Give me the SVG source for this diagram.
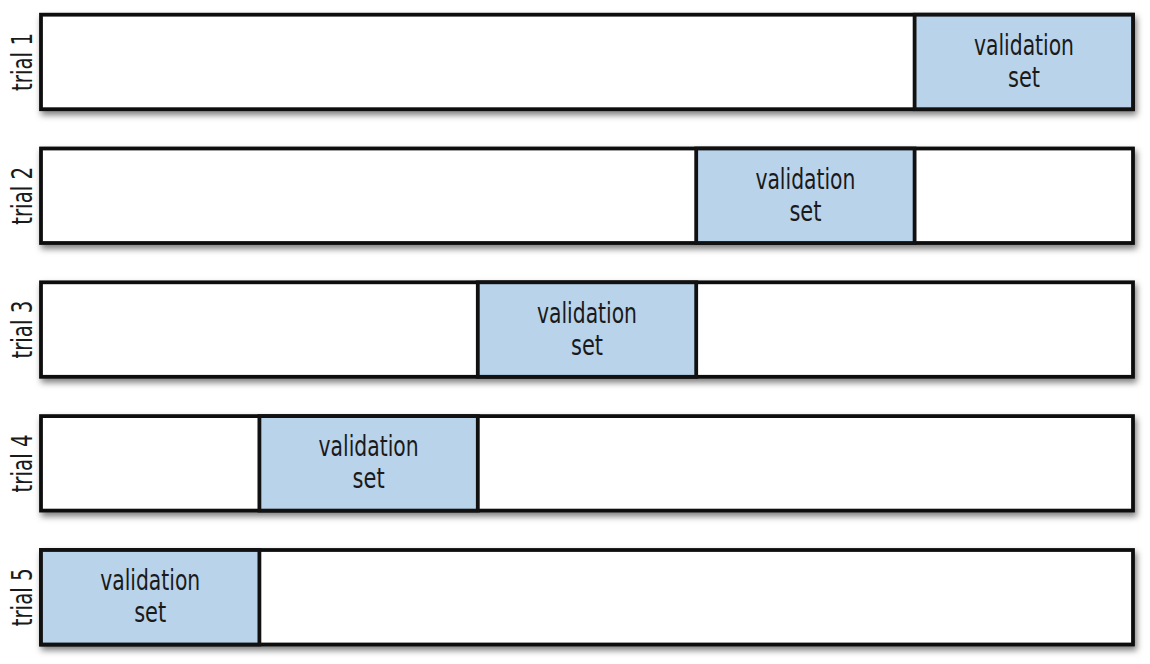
<svg xmlns="http://www.w3.org/2000/svg" width="1150" height="664" viewBox="0 0 1150 664">
  <defs>
    <filter id="shadow" x="-5%" y="-20%" width="110%" height="150%">
      <feDropShadow dx="2" dy="4" stdDeviation="3" flood-color="#000" flood-opacity="0.5"/>
    </filter>
    <style>
      .bar { fill: #ffffff; stroke: #111; stroke-width: 3.8; }
      .val { fill: #b9d3ea; stroke: #111; stroke-width: 3.8; }
      .lbl { font-family: "Liberation Sans Narrow", "DejaVu Sans Condensed", "Liberation Sans", sans-serif; font-size: 28px; fill: #1a1a1a; text-anchor: middle; }
    </style>
  </defs>
  <rect width="1150" height="664" fill="#ffffff"/>

  <!-- trial 1 -->
  <g id="trial1">
    <rect class="bar" x="41" y="14.7" width="1092" height="94.5" filter="url(#shadow)"/>
    <rect class="val" x="914.6" y="14.7" width="218.4" height="94.5"/>
    <text class="lbl" x="1024" y="55" textLength="100" lengthAdjust="spacingAndGlyphs">validation</text>
    <text class="lbl" x="1024" y="87" textLength="32" lengthAdjust="spacingAndGlyphs">set</text>
    <text class="lbl" transform="translate(32 62) rotate(-90)" textLength="58" lengthAdjust="spacingAndGlyphs">trial 1</text>
  </g>

  <!-- trial 2 -->
  <g id="trial2">
    <rect class="bar" x="41" y="148.5" width="1092" height="94.5" filter="url(#shadow)"/>
    <rect class="val" x="696.2" y="148.5" width="218.4" height="94.5"/>
    <text class="lbl" x="805.4" y="188.8" textLength="100" lengthAdjust="spacingAndGlyphs">validation</text>
    <text class="lbl" x="805.4" y="220.8" textLength="32" lengthAdjust="spacingAndGlyphs">set</text>
    <text class="lbl" transform="translate(32 195.8) rotate(-90)" textLength="58" lengthAdjust="spacingAndGlyphs">trial 2</text>
  </g>

  <!-- trial 3 -->
  <g id="trial3">
    <rect class="bar" x="41" y="282.3" width="1092" height="94.5" filter="url(#shadow)"/>
    <rect class="val" x="477.8" y="282.3" width="218.4" height="94.5"/>
    <text class="lbl" x="587" y="322.6" textLength="100" lengthAdjust="spacingAndGlyphs">validation</text>
    <text class="lbl" x="587" y="354.6" textLength="32" lengthAdjust="spacingAndGlyphs">set</text>
    <text class="lbl" transform="translate(32 329.6) rotate(-90)" textLength="58" lengthAdjust="spacingAndGlyphs">trial 3</text>
  </g>

  <!-- trial 4 -->
  <g id="trial4">
    <rect class="bar" x="41" y="416.1" width="1092" height="94.5" filter="url(#shadow)"/>
    <rect class="val" x="259.4" y="416.1" width="218.4" height="94.5"/>
    <text class="lbl" x="368.6" y="456.4" textLength="100" lengthAdjust="spacingAndGlyphs">validation</text>
    <text class="lbl" x="368.6" y="488.4" textLength="32" lengthAdjust="spacingAndGlyphs">set</text>
    <text class="lbl" transform="translate(32 463.4) rotate(-90)" textLength="58" lengthAdjust="spacingAndGlyphs">trial 4</text>
  </g>

  <!-- trial 5 -->
  <g id="trial5">
    <rect class="bar" x="41" y="550" width="1092" height="94.5" filter="url(#shadow)"/>
    <rect class="val" x="41" y="550" width="218.4" height="94.5"/>
    <text class="lbl" x="150.2" y="590.3" textLength="100" lengthAdjust="spacingAndGlyphs">validation</text>
    <text class="lbl" x="150.2" y="622.3" textLength="32" lengthAdjust="spacingAndGlyphs">set</text>
    <text class="lbl" transform="translate(32 597.3) rotate(-90)" textLength="58" lengthAdjust="spacingAndGlyphs">trial 5</text>
  </g>

  <g id="connectors"/>
</svg>
